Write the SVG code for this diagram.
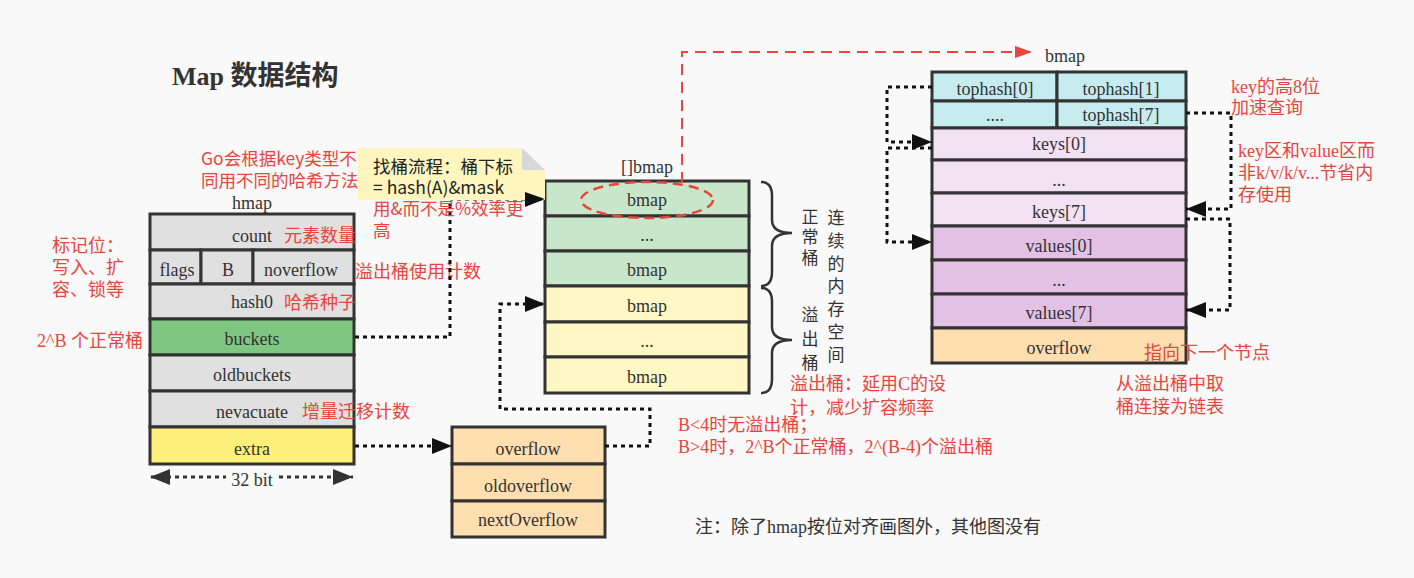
<svg xmlns="http://www.w3.org/2000/svg" width="1414" height="578" viewBox="0 0 1414 578">
  <style>
    .box { stroke: #333; stroke-width: 3; }
    .t { font-family: "Liberation Serif", "Noto Sans CJK SC", serif; font-size: 18px; fill: #333; text-anchor: middle; }
    .red { font-family: "Liberation Serif", "Noto Sans CJK SC", serif; font-size: 18px; fill: #e8453c; }
    .reds { font-family: "Noto Sans CJK SC", "Noto Sans", sans-serif; font-size: 17.5px; fill: #e8453c; }
    .vt { font-family: "Noto Sans CJK SC", sans-serif; font-size: 17px; fill: #333; writing-mode: vertical-rl; }
    .dot { fill: none; stroke: #111; stroke-width: 3; stroke-dasharray: 4 4; }
    .gray { fill: #e0e0e0; }
    .green { fill: #80c683; }
    .lgreen { fill: #c8e6c9; }
    .lyellow { fill: #fff8c4; }
    .yellow { fill: #fdf07a; }
    .peach { fill: #ffdfb0; }
    .cyan { fill: #c6ecef; }
    .pink { fill: #f3e2f3; }
    .purple { fill: #e2c1e4; }
  </style>
  <defs>
    <marker id="arr" markerUnits="userSpaceOnUse" markerWidth="21" markerHeight="16" refX="20" refY="8" orient="auto">
      <path d="M0,0 L20,8 L0,16 Z" fill="#111"/>
    </marker>
    <marker id="arrStart" markerUnits="userSpaceOnUse" markerWidth="21" markerHeight="16" refX="1" refY="8" orient="auto">
      <path d="M20,0 L0,8 L20,16 Z" fill="#333"/>
    </marker>
    <marker id="arrEnd" markerUnits="userSpaceOnUse" markerWidth="21" markerHeight="16" refX="20" refY="8" orient="auto">
      <path d="M0,0 L20,8 L0,16 Z" fill="#333"/>
    </marker>
    <marker id="redArr" markerUnits="userSpaceOnUse" markerWidth="18" markerHeight="12" refX="17" refY="6" orient="auto">
      <path d="M0,0 L17,6 L0,12 Z" fill="#e8453c"/>
    </marker>
  </defs>

  <rect width="1414" height="578" fill="#f9f9f9"/>

  <!-- title -->
  <g id="title">
    <text x="172" y="85" font-weight="bold" font-size="26" fill="#333" font-family="Liberation Serif, Noto Sans CJK SC, serif">Map <tspan font-size="27" font-family="Noto Sans CJK SC, sans-serif">数据结构</tspan></text>
  </g>

  <!-- hmap struct -->
  <g id="hmap">
    <text class="t" x="252" y="209">hmap</text>
    <rect class="box gray" x="150" y="214" width="204" height="36"/>
    <rect class="box gray" x="150" y="250" width="51" height="34"/>
    <rect class="box gray" x="201" y="250" width="52" height="34"/>
    <rect class="box gray" x="253" y="250" width="101" height="34"/>
    <rect class="box gray" x="150" y="284" width="204" height="35"/>
    <rect class="box green" x="150" y="319" width="204" height="36"/>
    <rect class="box gray" x="150" y="355" width="204" height="36"/>
    <rect class="box gray" x="150" y="391" width="204" height="36"/>
    <rect class="box yellow" x="150" y="427" width="204" height="37"/>
    <text class="t" x="252" y="242">count</text>
    <text class="t" x="177" y="276">flags</text>
    <text class="t" x="228" y="276">B</text>
    <text class="t" x="301" y="276">noverflow</text>
    <text class="t" x="252" y="308">hash0</text>
    <text class="t" x="252" y="345">buckets</text>
    <text class="t" x="252" y="381">oldbuckets</text>
    <text class="t" x="252" y="418">nevacuate</text>
    <text class="t" x="252" y="455">extra</text>
  </g>

  <!-- width of hmap -->
  <g id="width-32bit">
    <path d="M151,477 H353" fill="none" stroke="#333" stroke-width="3" stroke-dasharray="4 4" marker-start="url(#arrStart)" marker-end="url(#arrEnd)"/>
    <rect x="226" y="467" width="52" height="22" fill="#f9f9f9"/>
    <text class="t" x="252" y="486">32 bit</text>
  </g>

  <!-- hmap annotations -->
  <g id="hmap-notes">
    <text class="reds" x="201" y="165">Go会根据key类型不</text>
    <text class="reds" x="201" y="187">同用不同的哈希方法</text>
    <text class="red" x="284" y="242">元素数量</text>
    <text class="red" x="355" y="278">溢出桶使用计数</text>
    <text class="red" x="284" y="309">哈希种子</text>
    <text class="red" x="302" y="418">增量迁移计数</text>
    <text class="red" x="52" y="252">标记位：</text>
    <text class="red" x="52" y="274">写入、扩</text>
    <text class="red" x="52" y="296">容、锁等</text>
    <text class="red" x="37" y="347">2^B 个正常桶</text>
  </g>

  <!-- []bmap array -->
  <g id="bmap-array">
    <text class="t" x="647" y="173">[]bmap</text>
    <rect class="box lgreen" x="545" y="181" width="204" height="35"/>
    <rect class="box lgreen" x="545" y="216" width="204" height="35"/>
    <rect class="box lgreen" x="545" y="251" width="204" height="35"/>
    <rect class="box lyellow" x="545" y="286" width="204" height="36"/>
    <rect class="box lyellow" x="545" y="322" width="204" height="35"/>
    <rect class="box lyellow" x="545" y="357" width="204" height="36"/>
    <text class="t" x="647" y="206">bmap</text>
    <text class="t" x="647" y="241">...</text>
    <text class="t" x="647" y="276">bmap</text>
    <text class="t" x="647" y="312">bmap</text>
    <text class="t" x="647" y="347">...</text>
    <text class="t" x="647" y="383">bmap</text>
    <ellipse cx="647" cy="200" rx="66" ry="18" fill="none" stroke="#e8453c" stroke-width="2.5" stroke-dasharray="10 6"/>
  </g>

  <!-- braces and their labels -->
  <g id="braces">
    <path d="M761,182 Q772,182 772,196 L772,220 Q772,233 792,233 Q772,233 772,246 L772,272 Q772,286 761,286" fill="none" stroke="#333" stroke-width="2.5"/>
    <path d="M761,288 Q772,288 772,302 L772,327 Q772,340 792,340 Q772,340 772,353 L772,379 Q772,393 761,393" fill="none" stroke="#333" stroke-width="2.5"/>
    <text class="vt" x="810" y="208" letter-spacing="3.5">正常桶</text>
    <text class="vt" x="810" y="306" letter-spacing="7">溢出桶</text>
    <text class="vt" x="836" y="209" letter-spacing="5.8">连续的内存空间</text>
  </g>

  <!-- overflow buckets note -->
  <g id="overflow-notes">
    <text class="red" x="790" y="390">溢出桶：延用C的设</text>
    <text class="red" x="790" y="414">计，减少扩容频率</text>
    <text class="red" x="678" y="431">B&lt;4时无溢出桶；</text>
    <text class="red" x="678" y="453">B&gt;4时，2^B个正常桶，2^(B-4)个溢出桶</text>
  </g>

  <!-- mapextra -->
  <g id="mapextra">
    <rect class="box peach" x="452" y="427" width="153" height="37"/>
    <rect class="box peach" x="452" y="464" width="153" height="37"/>
    <rect class="box peach" x="452" y="501" width="153" height="36"/>
    <text class="t" x="528" y="455">overflow</text>
    <text class="t" x="528" y="492">oldoverflow</text>
    <text class="t" x="528" y="526">nextOverflow</text>
  </g>

  <!-- single bucket layout -->
  <g id="bmap">
    <text class="t" x="1065" y="62">bmap</text>
    <rect class="box cyan" x="932" y="72" width="125" height="29"/>
    <rect class="box cyan" x="1057" y="72" width="129" height="29"/>
    <rect class="box cyan" x="932" y="101" width="125" height="27"/>
    <rect class="box cyan" x="1057" y="101" width="129" height="27"/>
    <rect class="box pink" x="932" y="128" width="254" height="32"/>
    <rect class="box pink" x="932" y="160" width="254" height="33"/>
    <rect class="box pink" x="932" y="193" width="254" height="33"/>
    <rect class="box purple" x="932" y="226" width="254" height="34"/>
    <rect class="box purple" x="932" y="260" width="254" height="34"/>
    <rect class="box purple" x="932" y="294" width="254" height="34"/>
    <rect class="box peach" x="932" y="328" width="254" height="35"/>
    <text class="t" x="995" y="95">tophash[0]</text>
    <text class="t" x="1121" y="95">tophash[1]</text>
    <text class="t" x="995" y="121">....</text>
    <text class="t" x="1121" y="121">tophash[7]</text>
    <text class="t" x="1059" y="150">keys[0]</text>
    <text class="t" x="1059" y="186">...</text>
    <text class="t" x="1059" y="218">keys[7]</text>
    <text class="t" x="1059" y="252">values[0]</text>
    <text class="t" x="1059" y="286">...</text>
    <text class="t" x="1059" y="319">values[7]</text>
    <text class="t" x="1059" y="354">overflow</text>
  </g>

  <!-- bucket annotations -->
  <g id="bmap-notes">
    <text class="red" x="1231" y="93">key的高8位</text>
    <text class="red" x="1231" y="114">加速查询</text>
    <text class="red" x="1238" y="157">key区和value区而</text>
    <text class="red" x="1238" y="179">非k/v/k/v...节省内</text>
    <text class="red" x="1238" y="201">存使用</text>
    <text class="red" x="1144" y="359">指向下一个节点</text>
    <text class="red" x="1116" y="390">从溢出桶中取</text>
    <text class="red" x="1116" y="413">桶连接为链表</text>
  </g>

  <g id="footnote">
    <text x="695" y="533" font-family="Liberation Serif, Noto Sans CJK SC, serif" font-size="18" fill="#333">注：除了hmap按位对齐画图外，其他图没有</text>
  </g>

  <!-- connectors -->
  <g id="connectors">
    <path class="dot" d="M355,337 H450 V199 H545" marker-end="url(#arr)"/>
    <path class="dot" d="M355,446 H452" marker-end="url(#arr)"/>
    <path class="dot" d="M605,446 H650 V409 H500 V304 H545" marker-end="url(#arr)"/>
    <path class="dot" d="M932,87 H887 V142 H932" marker-end="url(#arr)"/>
    <path class="dot" d="M932,148 H887 V242 H932" marker-end="url(#arr)"/>
    <path class="dot" d="M1186,113 H1231 V209 H1186" marker-end="url(#arr)"/>
    <path class="dot" d="M1186,219 H1230 V310 H1186" marker-end="url(#arr)"/>
    <path d="M682,183 V52 H1032" fill="none" stroke="#e8453c" stroke-width="2" stroke-dasharray="11 7" marker-end="url(#redArr)"/>
  </g>

  <!-- lookup note -->
  <g id="lookup-note">
    <path d="M358,148 H522 L545,170 V200 H358 Z" fill="#fff6bf"/>
    <path d="M522,148 L545,170 H522 Z" fill="#d8d8d8"/>
    <text x="373" y="173" font-family="Noto Sans CJK SC, Noto Sans, sans-serif" font-size="17.5" fill="#222">找桶流程：桶下标</text>
    <text x="373" y="194" font-family="Noto Sans CJK SC, Noto Sans, sans-serif" font-size="17.5" fill="#222">= hash(A)&amp;mask</text>
    <text class="reds" x="373" y="215">用&amp;而不是%效率更</text>
    <text class="reds" x="373" y="237">高</text>
  </g>
  <path d="M525,192 L545,199 L525,206 Z" fill="#111"/>
</svg>
